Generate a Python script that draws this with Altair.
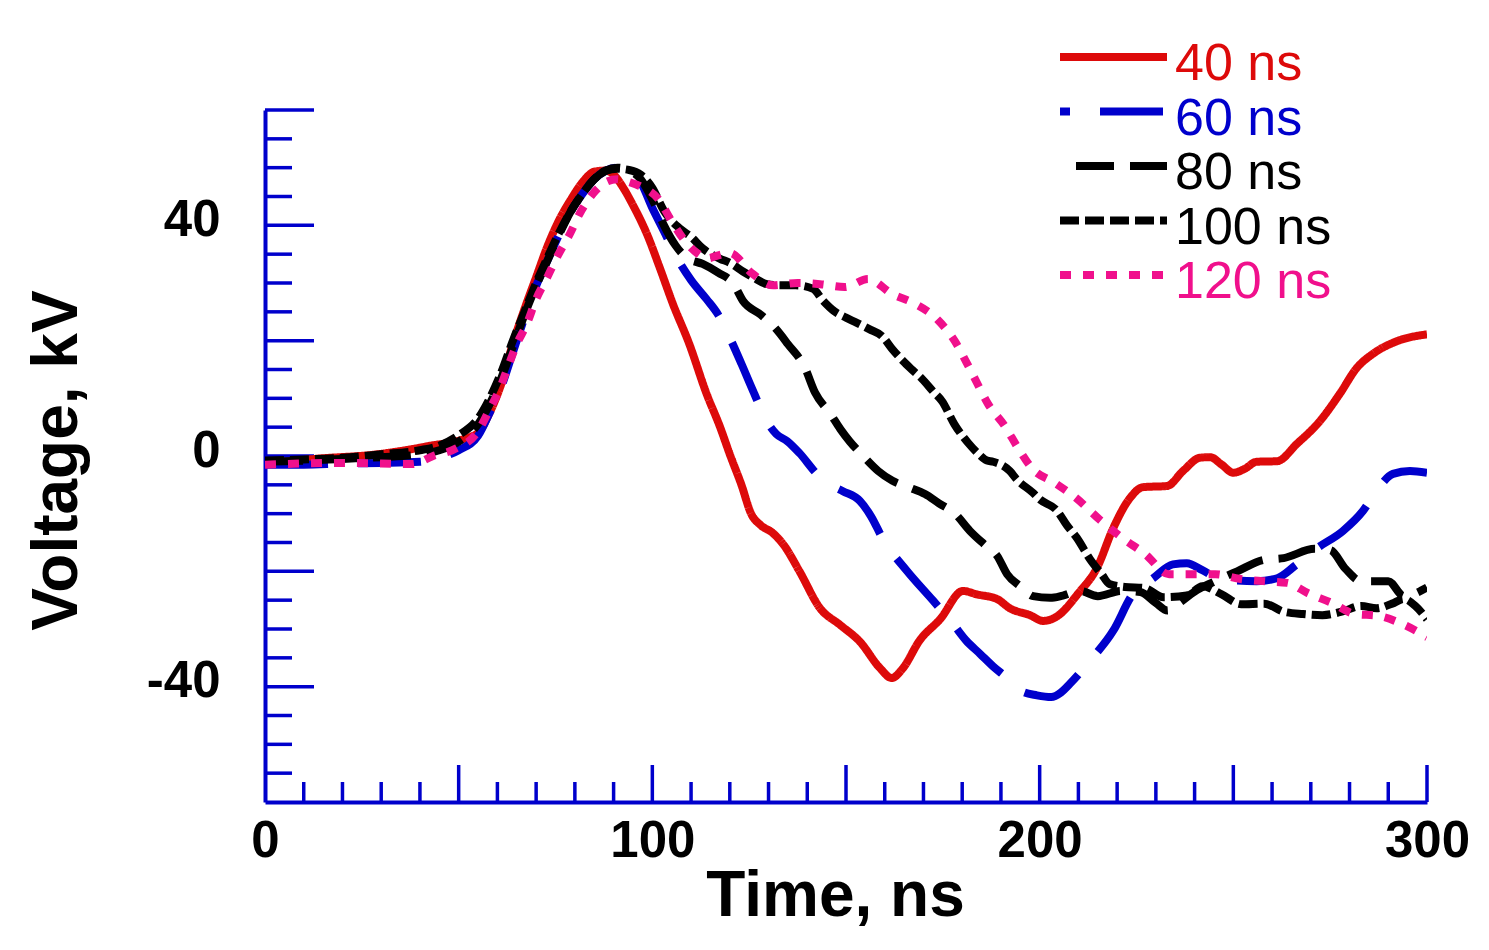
import altair as alt
import pandas as pd

FONT = "Liberation Sans"
AXIS_BLUE = "#0000cc"

# pulse duration -> colour / dash of each trace
names = ["40 ns", "60 ns", "80 ns", "100 ns", "120 ns"]
colors = ["#dd0a0a", "#0000cc", "#000000", "#000000", "#f0108c"]
dashes = [[1, 0], [63, 30], [38, 16], [19, 6], [11, 12]]
legend_dash_offsets = [0, 53, 38, 0, 0]

# traces (time in ns, voltage in kV)
t_40 = [0, 13, 29, 42, 52, 55, 58, 61, 64, 67, 70, 73, 76, 79, 82, 85, 88, 90, 92.5, 95,
        98.6, 102, 105.3, 109.5, 114, 117.5, 120, 123, 125.5, 128, 131, 134, 138, 143.3, 148.5,
        153.6, 158.8, 161.8, 164.7, 169, 174.3, 180.2, 183.8, 189, 192.3, 197.5, 200.9, 204.5,
        210, 214.8, 219, 223.3, 226.7, 232.9, 237, 241.4, 244, 247, 250, 253, 256, 261.3, 266.4,
        272.4, 277.5, 281.9, 286, 292.2, 300]
v_40 = [-1.4, -0.5, 0.3, 1.7, 3.1, 4.0, 7.5, 12.5, 19.5, 25.5, 31, 36.5, 41, 44.5, 47.5, 49.3,
        49.5, 48.8, 46.5, 43.5, 38.5, 32.5, 26.4, 19.5, 10.8, 5, 0.3, -5, -10, -12, -13.3, -15.5,
        -20, -26.4, -29.3, -32.2, -36.8, -38.5, -36.8, -32, -28.3, -23.4, -24, -24.8, -26.4,
        -27.6, -28.6, -27.8, -23.8, -19.4, -12.5, -7.3, -5.4, -5.2, -2.6, -0.3, -0.2, -1.5, -2.9,
        -2.2, -1.0, -0.9, 2.1, 6.1, 10.8, 15.3, 17.7, 19.9, 21.1]

t_60 = [0, 10, 20, 30, 40, 45, 50, 55, 58, 61, 64, 67, 70, 73, 76, 79, 82, 85, 88, 91, 94, 97,
        100, 103, 106.4, 110, 114, 117, 120, 123, 126, 129.6, 132, 134.8, 138, 142.5, 146, 149.2,
        153.6, 156.5, 159.6, 165.7, 172.5, 177.6, 181, 184.6, 188, 191.6, 195, 199.3, 203, 205.5,
        207.8, 213, 219, 224, 229.3, 234.4, 238, 242, 246.6, 256, 261.3, 266, 271.6, 278.3,
        283.5, 287, 291.2, 295.6, 300]
v_60 = [-1.5, -1.5, -1.3, -1.2, -1.0, -0.3, 1.0, 3.5, 7.5, 12, 18, 24, 29.5, 34, 38.5, 42.5,
        45.5, 48, 49.5, 50, 49.5, 47.5, 43, 39, 34.3, 30.5, 27.2, 24.5, 20.5, 16, 11.3, 6, 3.8,
        2.6, 0.5, -3.1, -5, -6.1, -7.8, -10.5, -14.5, -19.9, -25.1, -29.1, -32, -34.3, -36.5,
        -38.5, -40.7, -41.5, -41.8, -41, -39.5, -35.5, -30.3, -24, -21.2, -18.8, -18.6, -19.8,
        -21.3, -21.7, -21.2, -19, -16, -13, -9.5, -6, -3.1, -2.6, -2.9]

t_80 = [0, 10, 20, 30, 40, 45, 50, 55, 58, 61, 64, 67, 70, 73, 76, 79, 82, 85, 88, 91, 94, 97,
        100, 103, 106, 109, 113, 117, 121, 123.4, 128, 131.7, 135, 139.4, 142, 146, 148.5, 151,
        154, 158.3, 162, 166.5, 170.4, 174, 178, 182, 186, 189, 191.6, 195, 198.3, 202.7, 206,
        210.4, 215, 221, 226, 230, 233, 236, 240, 245, 251, 258, 263, 271, 275, 279, 283, 290,
        294, 300]
v_80 = [-1.0, -0.8, -0.5, -0.2, 0.3, 1.0, 2.5, 5.5, 9, 13.5, 19, 24.5, 29.5, 34, 38.5, 42.5,
        45.5, 48, 49.5, 50, 49.5, 48, 44.5, 40, 36.5, 34.3, 33.3, 31.8, 29.8, 26.9, 24.5, 22.2,
        19.4, 15.3, 11, 7.3, 4.7, 2.5, 0.3, -2.6, -4.3, -5.5, -6.6, -8.2, -9.9, -13, -15.5,
        -17.3, -20.5, -22.6, -24.3, -24.6, -24.2, -23.4, -24.3, -23.4, -23.6, -25.5, -26.8,
        -25.5, -23.5, -21.8, -20, -18, -17.7, -16.1, -16.3, -19.6, -21.7, -21.7, -24.3, -22.8]

t_100 = [0, 10, 20, 30, 40, 45, 50, 55, 58, 61, 64, 67, 70, 73, 76, 79, 82, 85, 88, 91, 94, 97,
         100, 103, 107, 110, 113, 117.5, 120, 123.4, 126, 129.6, 133, 137, 141.5, 144, 147, 150,
         152.8, 156, 159.3, 162, 164.7, 167, 169.6, 172.5, 174.8, 178, 181.5, 184, 186.4, 188,
         192.3, 194, 198.3, 200, 204.5, 207, 209.6, 213, 216, 218, 222, 227, 232, 238, 242, 247,
         252, 258, 263, 268, 273, 278, 283, 287, 291, 294, 297, 300]
v_100 = [-0.8, -0.6, -0.3, 0.3, 1.0, 1.8, 3.6, 6.5, 10, 14.5, 20, 25, 30, 34.5, 38.8, 42.5,
         45.5, 48, 49.5, 49.8, 49.6, 48.8, 46.5, 42.5, 39.5, 38, 36, 34.2, 33.5, 32, 31, 29.8,
         29.6, 29.6, 29, 27, 25.1, 24, 23.1, 22, 20.8, 18.5, 16.5, 15, 13.4, 11.2, 9.5, 5.5, 2.3,
         0.5, -0.8, -1.0, -2.6, -4, -6.4, -7.5, -9.5, -12, -14.2, -17.9, -20.5, -22.2, -22.7,
         -22.9, -24.5, -24.2, -22.6, -24, -25.7, -25.6, -27, -27.4, -27.6, -27, -26, -26.4,
         -25.6, -24.8, -26, -28.3]

t_120 = [0, 10, 20, 30, 38, 43.4, 49, 55, 58, 60.7, 62.7, 65, 67.6, 70, 72.8, 75.4, 78.7, 81.3,
         85.2, 88, 90.9, 94, 96.8, 101.5, 105, 108.4, 111, 114.4, 117, 120, 125.7, 131.2, 137.5,
         143.3, 149.7, 155.7, 161.9, 167.5, 173.7, 178.1, 181.2, 183.8, 186.7, 191, 194.4, 198,
         204, 209.6, 215.6, 221.3, 227.2, 233.4, 239.6, 245.3, 251.5, 257.7, 263.9, 269.3, 275.5,
         281.4, 287.3, 293.5, 300]
v_120 = [-1.5, -1.3, -1.2, -1.3, -1.4, 0, 1.2, 4.3, 8.1, 11.8, 15.4, 19.4, 22.9, 27.2, 30.9,
         34.5, 38.5, 42.1, 45.9, 47.5, 48, 47.5, 46.8, 44.6, 40.7, 37.3, 35.5, 34.3, 34.8, 35.2,
         31.7, 29.6, 30, 29.8, 29.3, 30.7, 28.1, 26.5, 23.6, 19.9, 16.1, 12.7, 9, 5.2, 1.4, -2.1,
         -4.7, -7.4, -11.1, -14.2, -17, -20.5, -20.5, -20.5, -21.3, -21.7, -22, -23.8, -25.5,
         -27.4, -27.7, -29.1, -31.4]

traces = [(t_40, v_40), (t_60, v_60), (t_80, v_80), (t_100, v_100), (t_120, v_120)]

# tick marks, drawn inward like the original
x_major_ticks = [50, 100, 150, 200, 250, 300]
x_minor_ticks = [10, 20, 30, 40, 60, 70, 80, 90, 110, 120, 130, 140, 160, 170, 180, 190,
                 210, 220, 230, 240, 260, 270, 280, 290]
y_major_ticks = [-40, -20, 0, 20, 40, 60]
y_minor_ticks = [-55, -50, -45, -35, -30, -25, -15, -10, -5, 5, 10, 15, 25, 30, 35, 45, 50, 55]

W, H = 1162, 692
LINE_W = 8

x_scale = alt.Scale(domain=[0, 300], nice=False, zero=False)
y_scale = alt.Scale(domain=[-60, 60], nice=False, zero=False)

x_axis = alt.Axis(
    title="Time, ns", values=[0, 100, 200, 300], ticks=False, tickSize=0, grid=False,
    domainColor=AXIS_BLUE, domainWidth=4, labelFont=FONT, labelFontSize=51,
    labelFontWeight="bold", labelColor="black", labelPadding=14, labelFlush=False,
    labelOverlap=False, titleFont=FONT, titleFontSize=64, titleFontWeight="bold",
    titleColor="black", titleBaseline="alphabetic", titleX=570, titleY=113,
)
y_axis = alt.Axis(
    title="Voltage, kV", values=[-40, 0, 40], ticks=False, tickSize=0, grid=False,
    domainColor=AXIS_BLUE, domainWidth=4, labelFont=FONT, labelFontSize=51,
    labelFontWeight="bold", labelColor="black", labelPadding=45, labelOffset=-5,
    labelExpr="'' + datum.value",  # plain hyphen, as in the original
    labelOverlap=False, titleFont=FONT, titleFontSize=64, titleFontWeight="bold",
    titleColor="black", titleBaseline="alphabetic", titleX=-189, titleY=350,
)


def xq(field):
    return alt.X(f"{field}:Q", scale=x_scale, axis=x_axis)


def yq(field):
    return alt.Y(f"{field}:Q", scale=y_scale, axis=y_axis)


layers = []

# inward ticks
layers.append(
    alt.Chart(pd.DataFrame({"t": x_minor_ticks})).mark_rule(color=AXIS_BLUE, strokeWidth=3.5)
    .encode(x=xq("t"), y=alt.value(H), y2=alt.value(H - 20))
)
layers.append(
    alt.Chart(pd.DataFrame({"t": x_major_ticks})).mark_rule(color=AXIS_BLUE, strokeWidth=3.5)
    .encode(x=xq("t"), y=alt.value(H), y2=alt.value(H - 37))
)
layers.append(
    alt.Chart(pd.DataFrame({"v": y_minor_ticks})).mark_rule(color=AXIS_BLUE, strokeWidth=3.5)
    .encode(y=yq("v"), x=alt.value(0), x2=alt.value(27))
)
layers.append(
    alt.Chart(pd.DataFrame({"v": y_major_ticks})).mark_rule(color=AXIS_BLUE, strokeWidth=3.5)
    .encode(y=yq("v"), x=alt.value(0), x2=alt.value(49))
)

# the five traces
for name, color, dash, (t, v) in zip(names, colors, dashes, traces):
    df = pd.DataFrame({"t": t, "v": v})
    layers.append(
        alt.Chart(df)
        .mark_line(color=color, strokeWidth=LINE_W, strokeDash=dash, interpolate="monotone",
                   clip=True)
        .encode(x=xq("t"), y=yq("v"))
    )

# legend, top right, partly above the frame
for i, (name, color, dash, off) in enumerate(zip(names, colors, dashes, legend_dash_offsets)):
    ly = -53 + i * 54.5
    one = pd.DataFrame({"label": [name]})
    layers.append(
        alt.Chart(one)
        .mark_rule(color=color, strokeWidth=LINE_W, strokeDash=dash, strokeDashOffset=off)
        .encode(x=alt.value(795), x2=alt.value(902), y=alt.value(ly))
    )
    layers.append(
        alt.Chart(one)
        .mark_text(align="left", baseline="alphabetic", font=FONT, fontSize=52, color=color)
        .encode(x=alt.value(910), y=alt.value(ly + 23), text="label:N")
    )

chart = (
    alt.layer(*layers)
    .properties(
        width=W,
        height=H,
        autosize=alt.AutoSizeParams(type="none"),
        padding={"left": 257, "top": 102, "right": 50, "bottom": 130},
        background="white",
    )
    .configure_view(stroke=None)
)

chart.save("out.html", embed_options={"renderer": "svg", "actions": False})
